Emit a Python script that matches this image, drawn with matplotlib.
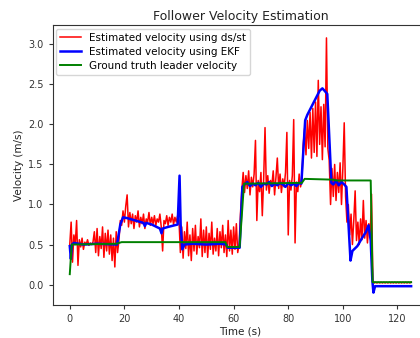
import numpy as np
import matplotlib
matplotlib.use("Agg")
import matplotlib.pyplot as plt

# ---- Estimated velocity using ds/dt (sampled every 0.5 s, segments by start time) ----
dt_red = 0.5
red_seg_starts = [0.0, 9.0, 18.0, 40.0, 62.0, 85.0, 95.0, 101.0, 111.0]
red_a = [0.50, 0.78, 0.28, 0.62, 0.50, 0.80, 0.24, 0.56, 0.47, 0.58, 0.44, 0.53,
         0.50, 0.56, 0.49, 0.52, 0.50, 0.53]
red_b = [0.66, 0.40, 0.70, 0.36, 0.60, 0.45, 0.72, 0.34, 0.64, 0.42, 0.68, 0.38,
         0.62, 0.30, 0.58, 0.22, 0.66, 0.40]
red_c = [0.55, 0.80, 0.74, 0.92, 0.78, 0.98, 1.12, 0.72, 0.90, 0.76, 0.88, 0.70,
         0.86, 0.78, 0.92, 0.72, 0.84, 0.76, 0.88, 0.70, 0.82, 0.78, 0.90, 0.74,
         0.84, 0.76, 0.86, 0.74, 0.82, 0.78, 0.88, 0.72, 0.42, 0.80, 0.76, 0.86,
         0.74, 0.84, 0.78, 0.88, 0.75, 0.84, 0.78, 0.86]
red_d = [0.80, 0.40, 0.72, 0.33, 0.66, 0.45, 0.78, 0.36, 0.62, 0.30, 0.70, 0.42,
         0.74, 0.38, 0.60, 0.46, 0.82, 0.35, 0.68, 0.40, 0.72, 0.34, 0.64, 0.44,
         0.78, 0.38, 0.58, 0.42, 0.70, 0.36, 0.66, 0.46, 0.74, 0.40, 0.62, 0.35,
         0.80, 0.42, 0.68, 0.38, 0.72, 0.44, 0.76, 0.40]
red_e = [0.50, 0.88, 1.18, 1.40, 1.15, 1.36, 1.20, 1.42, 1.12, 1.34, 1.22, 1.38,
         1.80, 0.80, 1.30, 1.16, 1.40, 0.86, 1.32, 1.96, 1.18, 1.36, 1.14, 1.30,
         1.24, 1.42, 1.12, 1.34, 1.58, 1.20, 1.38, 1.15, 1.32, 1.22, 1.40, 1.90,
         0.62, 1.30, 1.18, 1.36, 2.06, 0.52, 1.28, 1.16, 1.38, 1.22]
red_f = [1.30, 1.75, 1.95, 1.62, 2.05, 1.70, 2.15, 1.58, 2.20, 1.65, 2.28, 1.60,
         2.55, 1.75, 2.22, 1.56, 2.25, 1.72, 3.08, 1.70]
red_g = [1.55, 1.00, 1.45, 1.10, 1.50, 1.05, 1.40, 1.15, 1.52, 1.00, 1.45, 2.02]
red_h = [1.10, 0.78, 1.00, 0.62, 0.88, 0.50, 0.80, 1.17, 0.55, 0.78, 0.50, 0.82,
         0.56, 1.05, 0.58, 0.80, 0.52, 0.76, 0.60, 1.13]
red_i = [0.05, 0.02, 0.03, 0.02, 0.03, 0.02, 0.03, 0.02, 0.03, 0.02, 0.03, 0.02,
         0.03, 0.02, 0.03, 0.02, 0.03, 0.02, 0.03, 0.02, 0.03, 0.02, 0.03, 0.02,
         0.03, 0.02, 0.03, 0.02, 0.03]
red_segments = [red_a, red_b, red_c, red_d, red_e, red_f, red_g, red_h, red_i]

# ---- Estimated velocity using EKF ----
t_ekf = [0, 0.4, 0.8, 1.5, 5, 10, 17.3, 18.5, 19.5, 21, 23, 25, 27, 27.5, 28, 30,
         33, 33.6, 34, 36, 39.5, 40.2, 40.6, 41.2, 42, 45, 50, 55, 57.3, 57.8,
         62.2, 63.2, 64, 65, 66, 67, 68, 69, 70, 71, 72, 73, 74, 75, 76, 77, 78,
         79, 80, 81, 82, 83, 84, 84.8, 86.2, 87.0, 88.5, 90, 91.5, 92.5, 93.3, 94.3,
         95.8, 96.5, 97.5, 98.5, 99.5, 100.5, 101.3, 102.8, 103.5, 105.3, 107,
         108.5, 109.4, 110.2, 110.8, 111.2, 111.8, 113, 125]
v_ekf = [0.48, 0.32, 0.50, 0.52, 0.50, 0.51, 0.50, 0.75, 0.84, 0.83, 0.81, 0.79,
         0.77, 0.73, 0.77, 0.75, 0.70, 0.64, 0.70, 0.72, 0.75, 1.36, 0.75, 0.44,
         0.50, 0.51, 0.50, 0.51, 0.50, 0.46, 0.46, 1.22, 1.25, 1.28, 1.23, 1.26,
         1.24, 1.27, 1.22, 1.26, 1.25, 1.28, 1.23, 1.26, 1.24, 1.27, 1.25, 1.22,
         1.27, 1.24, 1.26, 1.23, 1.27, 1.26, 2.05, 2.12, 2.22, 2.32, 2.42, 2.45,
         2.42, 2.38, 1.27, 1.25, 1.30, 1.24, 1.28, 1.25, 1.22, 0.30, 0.42, 0.48,
         0.58, 0.66, 0.74, 0.55, 0.05, -0.10, -0.02, -0.02, -0.02]

# ---- Ground truth leader velocity ----
t_gt = [0, 0.7, 17, 19, 57, 57.6, 62.2, 63.8, 85, 86, 96.5, 97.5, 110.2, 110.9, 125]
v_gt = [0.13, 0.50, 0.51, 0.53, 0.53, 0.47, 0.47, 1.26, 1.27, 1.32, 1.31, 1.30,
        1.30, 0.03, 0.03]

x_ticks = [0, 20, 40, 60, 80, 100, 120]
y_ticks = [0.0, 0.5, 1.0, 1.5, 2.0, 2.5, 3.0]

t_red = np.concatenate([s + dt_red * np.arange(len(v)) for s, v in zip(red_seg_starts, red_segments)])
v_red = np.concatenate([np.asarray(v, float) for v in red_segments])

fig = plt.figure(figsize=(4.2, 3.38), dpi=100)
ax = fig.add_axes([0.1255, 0.0976, 0.894, 0.827])

ax.plot(t_red, v_red, color='red', lw=1.1, label='Estimated velocity using ds/st')
ax.plot(t_ekf, v_ekf, color='blue', lw=1.8, label='Estimated velocity using EKF')
ax.plot(t_gt, v_gt, color='green', lw=1.4, label='Ground truth leader velocity')

ax.set_xlim(-6.25, 131.25)
ax.set_ylim(-0.255, 3.235)
ax.set_xticks(x_ticks)
ax.set_yticks(y_ticks)
ax.set_xticklabels([str(v) for v in x_ticks])
ax.set_yticklabels([f"{v:.1f}" for v in y_ticks])
ax.tick_params(labelsize=7, length=3, width=0.8, colors='#333333')
for s in ax.spines.values():
    s.set_color('#333333')
    s.set_linewidth(0.8)

ax.set_title('Follower Velocity Estimation', fontsize=9, color='#222222', pad=4)
ax.set_xlabel('Time (s)', fontsize=7.5, color='#222222', labelpad=2)
ax.set_ylabel('Velocity (m/s)', fontsize=7.5, color='#222222', labelpad=3)

leg = ax.legend(loc='upper left', fontsize=7.5, frameon=True, fancybox=True,
                framealpha=0.8, edgecolor='#cccccc', borderaxespad=0.3,
                handlelength=2.0, labelspacing=0.4)

fig.savefig('out.png', dpi=100)
